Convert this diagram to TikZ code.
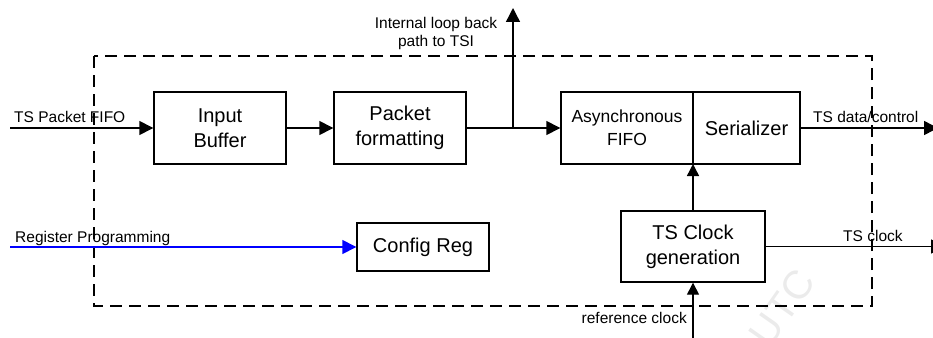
\documentclass[tikz,border=0pt]{standalone}
\usepackage{fontspec}
\setmainfont{Liberation Sans}
\usetikzlibrary{arrows.meta}
\tikzset{
  blk/.style={draw, line width=1.4pt, minimum width=132pt, minimum height=72pt, inner sep=0pt, align=center, font=\fontsize{20}{25}\selectfont},
  conn/.style={line width=1.4pt, -{Triangle[length=14pt,width=14pt]}},
  sconn/.style={line width=1.4pt, -{Triangle[length=12pt,width=12pt]}},
  lbl/.style={font=\fontsize{15.5}{18}\selectfont, inner sep=0pt},
  border/.style={line width=2.2pt, dash pattern=on 12pt off 7pt},
}
\begin{document}
\begin{tikzpicture}[x=1pt,y=-1pt]
\useasboundingbox (0,0) rectangle (933,337);
% watermark
\node[rotate=55, text=gray!16, font=\fontsize{40}{40}\selectfont, inner sep=0pt] (wm) at (782,308) {UTC};
% dashed border
\draw[border] (94,56) rectangle (872,306);
% blocks
\node[blk] (ib) at (220,128) {Input\\Buffer};
\node[blk] (pf) at (400,128) {Packet\\formatting};
\node[blk, font=\fontsize{17.5}{23}\selectfont] (af) at (627,128) {Asynchronous\\FIFO};
\node[blk, minimum width=107pt] (ser) at (746.5,128) {Serializer};
\node[blk, minimum height=48pt] (cr) at (423,247) {Config Reg};
\node[blk, minimum width=144pt, minimum height=71pt] (cg) at (693,246.5) {TS Clock\\generation};
% free-end coordinates
\coordinate (inA) at (10,128);
\coordinate (inR) at (10,247);
\coordinate (outD) at (938,128);
\coordinate (outC) at (945,246.5);
\coordinate (loopTop) at (513,8);
\coordinate (loopJ) at (513,128);
\coordinate (refIn) at (693,340);
\coordinate (afBot) at (693,164);
% connectors
\draw[conn] (inA) -- (ib.west);
\draw[conn] (ib.east) -- (pf.west);
\draw[conn] (pf.east) -- (af.west);
\draw[conn] (loopJ) -- (loopTop);
\draw[conn] (ser.east) -- (outD);
\draw[conn, blue] (inR) -- (cr.west);
\draw[sconn] (cg.north) -- (afBot);
\draw[conn] (cg.east) -- (outC);
\draw[sconn] (refIn) -- (cg.south);
% labels
\node[lbl, anchor=base west] (l1) at (14,122) {TS Packet FIFO};
\node[lbl, anchor=base west] (l2) at (813,122) {TS data/control};
\node[lbl, anchor=base west] (l3) at (15,242) {Register Programming};
\node[lbl, anchor=base west] (l4) at (843,241) {TS clock};
\node[lbl, anchor=base east] (l5) at (687,323) {reference clock};
\node[lbl, align=center, anchor=base] (l6) at (436,47) {Internal loop back\\path to TSI};
\end{tikzpicture}
\end{document}
